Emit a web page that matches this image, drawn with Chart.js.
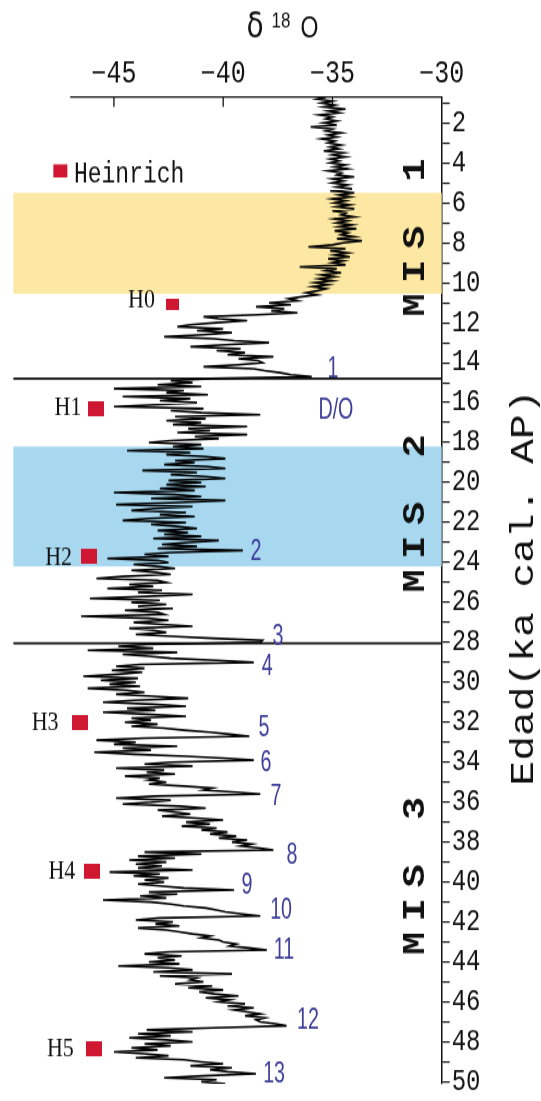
<!DOCTYPE html>
<html>
<head>
<meta charset="utf-8">
<script src="https://cdn.jsdelivr.net/npm/chart.js@4/dist/chart.umd.min.js"></script>
<style>
  html { overflow: hidden; background: #fff; }
  body { margin: 0; padding: 0; width: 541px; height: 1101px; background: #fff; }
  /* the figure is drawn flat and stretched vertically, like the printed plate */
  #wrap { width: 541px; height: 881px; transform: scaleY(1.25); transform-origin: 0 0; }
  canvas { display: block; }
</style>
</head>
<body>
<div id="wrap">
  <canvas id="core" width="541" height="881" style="width:541px;height:881px"></canvas>
</div>
<script>
// δ18O record, one value every 0.1 ka starting at 0.7 ka
const ageStart = 0.7;
const ageStep = 0.1;
const d18O = [
  -35.3, -35.7, -35.0,
  -35.5, -34.9, -35.4, -34.4, -35.2, -34.7, -35.6, -35.0, -35.3, -34.8,
  -35.4, -34.8, -36.0, -35.0, -35.3, -34.6, -35.2, -34.8, -35.5, -34.9,
  -35.2, -34.6, -35.1, -34.7, -35.4, -34.5, -35.0, -34.4, -35.1, -34.7,
  -35.1, -34.4, -34.9, -34.3, -35.2, -34.6, -34.8, -34.0, -35.0, -34.5,
  -35.0, -34.3, -34.8, -34.1, -35.1, -34.0, -34.7, -34.2, -35.0, -34.4,
  -34.9, -34.2, -34.8, -34.0, -35.0, -34.4, -34.6, -34.0, -34.9, -34.3,
  -34.8, -34.1, -34.7, -33.9, -34.9, -34.3, -34.6, -34.0, -34.8, -33.65,
  -34.5, -35.0, -36.1, -34.4, -35.1, -34.3, -34.9, -34.2, -35.2, -34.5,
  -35.0, -34.4, -36.5, -34.8, -35.3, -34.6, -35.5, -34.9, -35.6, -35.0,
  -35.8, -35.2, -35.9, -35.3, -35.7, -36.2, -35.7, -36.4, -37.0, -36.6,
  -37.9, -36.9, -38.5, -37.2, -37.8, -36.6, -38.4, -40.9, -40.2, -38.9,
  -40.3, -41.5, -42.1, -40.0, -41.2, -39.6, -40.9, -42.7, -40.4, -39.5,
  -37.9, -39.9, -41.5, -39.2, -40.3, -39.0, -39.8, -37.7, -39.3, -38.4,
  -38.2, -39.3, -40.9, -38.6, -38.1, -37.4, -36.9, -35.95, -40.6, -42.4,
  -41.4, -43.0, -41.0, -45.0, -41.8, -42.6, -40.7, -44.6, -41.5, -42.9,
  -41.2, -43.1, -45.0, -40.9, -42.4, -41.0, -38.3, -42.2, -40.8, -42.6,
  -41.0, -42.3, -38.9, -41.6, -40.6, -42.1, -38.9, -41.3, -40.2, -42.4,
  -43.4, -41.0, -42.3, -40.9, -44.4, -41.5, -42.6, -40.8, -39.9, -42.2,
  -41.3, -42.7, -40.7, -39.9, -43.7, -41.2, -42.4, -40.8, -39.9, -42.5,
  -41.0, -42.6, -40.8, -42.9, -41.3, -45.0, -42.2, -41.0, -43.3, -39.9,
  -42.0, -44.9, -41.4, -43.1, -44.2, -41.7, -42.9, -41.3, -43.4, -44.6,
  -41.7, -43.3, -42.1, -41.2, -43.0, -41.6, -42.7, -41.0, -43.2, -40.2,
  -41.6, -42.8, -41.2, -43.0, -39.1, -42.4, -43.6, -42.5, -45.3, -43.0,
  -42.5, -44.1, -43.0, -42.2, -44.2, -43.1, -42.4, -44.6, -45.8, -43.0,
  -42.6, -44.3, -43.2, -45.3, -42.8, -43.9, -41.4, -43.5, -46.1, -42.9,
  -44.2, -42.6, -43.9, -42.3, -44.5, -43.0, -42.7, -46.5, -43.4, -42.5,
  -44.1, -42.8, -41.4, -44.3, -43.2, -42.6, -44.0, -42.4, -40.5, -38.2,
  -38.3, -43.5, -44.8, -43.2, -46.2, -42.1, -44.6, -43.4, -42.4, -40.3,
  -38.6, -43.8, -44.9, -43.6, -45.1, -43.7, -44.8, -46.4, -43.9, -45.6,
  -44.0, -45.2, -43.8, -46.2, -44.4, -43.6, -44.9, -43.2, -41.6, -44.1,
  -45.5, -43.2, -41.7, -44.4, -43.1, -45.5, -43.5, -41.7, -44.2, -43.3,
  -44.5, -43.0, -44.2, -42.7, -41.8, -40.6, -39.7, -38.8, -43.6, -45.8,
  -44.0, -45.0, -42.1, -44.6, -43.3, -45.9, -44.1, -41.7, -40.0, -38.6,
  -42.4, -43.6, -41.4, -44.9, -42.7, -43.5, -42.2, -44.5, -42.9, -43.4,
  -42.6, -43.4, -41.8, -40.5, -40.9, -39.4, -38.3, -43.1, -44.9, -42.4,
  -43.3, -44.6, -42.0, -40.8, -43.0, -42.2, -41.5, -42.8, -41.2, -40.0,
  -41.7, -40.6, -41.9, -40.3, -41.0, -39.8, -40.6, -39.4, -40.2, -38.9,
  -39.6, -38.7, -39.2, -38.3, -37.7, -43.6, -41.0, -43.9, -42.2, -44.3,
  -42.6, -44.0, -42.8, -43.9, -41.4, -45.2, -42.9, -44.1, -42.5, -43.6,
  -42.7, -43.9, -42.9, -41.8, -39.5, -43.4, -42.1, -43.8, -42.6, -45.5,
  -43.3, -42.4, -41.8, -40.8, -40.3, -39.9, -39.1, -38.3, -42.9, -44.0,
  -42.3, -43.1, -42.0, -43.9, -42.6, -42.0, -41.4, -40.6, -41.0, -40.2,
  -40.0, -39.4, -39.7, -38.8, -38.0, -42.5, -43.6, -41.9, -43.0, -42.2,
  -43.4, -42.0, -44.8, -42.5, -41.4, -43.2, -39.6, -42.9, -41.2, -41.5,
  -40.9, -42.2, -40.5, -41.6, -40.0, -41.1, -40.4, -39.3, -40.8, -39.7,
  -40.2, -39.0, -39.8, -38.6, -39.5, -38.9, -38.3, -39.0, -38.1, -38.5,
  -38.3, -37.6, -37.1, -40.4, -43.5, -41.4, -43.9, -42.4, -44.3, -42.6,
  -41.4, -43.6, -42.4, -44.2, -43.0, -45.0, -43.6, -42.5, -44.0, -41.8,
  -41.0, -40.0, -41.5, -39.6, -40.6, -39.8, -38.5, -40.9, -42.7, -40.3,
  -41.0, -39.9,
];

const d18OTicks = [-45, -40, -35, -30];
const ageTicks = [
  1, 2, 3, 4, 5, 6, 7, 8, 9, 10, 11, 12, 13, 14, 15, 16, 17, 18, 19, 20, 21, 22, 23, 24, 25,
  26, 27, 28, 29, 30, 31, 32, 33, 34, 35, 36, 37, 38, 39, 40, 41, 42, 43, 44, 45, 46, 47, 48, 49, 50,
];

// shaded intervals (ka)
const bandStart = [5.5, 18.2];
const bandEnd = [10.55, 24.2];

// stage boundaries and stage names
const misBoundary = [14.8, 28.05];
const misNames = ['MIS 1', 'MIS 2', 'MIS 3'];
const misAge = [7.73, 21.55, 39.7];
const misD18O = [-31.15, -31.15, -31.15];

// Heinrich events
const heinrichNames = ['H0', 'H1', 'H2', 'H3', 'H4', 'H5'];
const heinrichAge = [11.08, 16.31, 23.68, 32.0, 39.45, 48.35];
const heinrichD18O = [-42.3, -45.81, -46.12, -46.55, -45.99, -45.92];
const heinrichTextAge = [10.85, 16.25, 23.75, 32.0, 39.45, 48.35];
const heinrichTextD18O = [-43.74, -47.1, -47.53, -48.15, -47.38, -47.45];

// Dansgaard-Oeschger interstadials
const doNames = ['1', 'D/O', '2', '3', '4', '5', '6', '7', '8', '9', '10', '11', '12', '13'];
const doAge = [14.35, 16.4, 23.45, 27.7, 29.2, 32.3, 34.05, 35.75, 38.65, 40.15, 41.45, 43.4, 46.95, 49.6];
const doD18O = [-34.97, -34.84, -38.5, -37.49, -37.99, -38.13, -38.04, -37.58, -36.85, -38.91, -37.35, -37.22, -36.12, -37.67];

const ink = '#111';
const red = '#cf1731';
const doBlue = '#3e3e98';
const bandColors = ['rgb(252, 232, 163)', 'rgb(167, 216, 239)'];

const corePoints = d18O.map((v, i) => ({ x: v, y: +(ageStart + i * ageStep).toFixed(1) }));
const heinrichPoints = heinrichAge.map((a, i) => ({ x: heinrichD18O[i], y: a }));

function redSquare(w, h) {
  const c = document.createElement('canvas');
  c.width = w;
  c.height = h;
  const g = c.getContext('2d');
  g.fillStyle = red;
  g.fillRect(0, 0, w, h);
  return c;
}
const heinrichIcons = heinrichNames.map((n) => (n === 'H0' ? redSquare(13, 9) : redSquare(16, 12)));

const decor = {
  id: 'decor',
  beforeDatasetsDraw(chart) {
    const { ctx, chartArea: area, scales: { y } } = chart;
    ctx.save();
    bandStart.forEach((from, i) => {
      const top = y.getPixelForValue(from);
      const bottom = y.getPixelForValue(bandEnd[i]);
      ctx.fillStyle = bandColors[i];
      ctx.fillRect(area.left, top, area.right - area.left, bottom - top);
    });
    ctx.strokeStyle = ink;
    ctx.lineWidth = 1.6;
    misBoundary.forEach((age) => {
      const py = y.getPixelForValue(age);
      ctx.beginPath();
      ctx.moveTo(area.left, py);
      ctx.lineTo(area.right, py);
      ctx.stroke();
    });
    ctx.restore();
  },
  afterDatasetsDraw(chart) {
    const { ctx, chartArea: area, scales: { x, y } } = chart;
    ctx.save();

    // top axis line and inward ticks
    ctx.strokeStyle = ink;
    ctx.lineWidth = 1.3;
    ctx.beginPath();
    ctx.moveTo(x.getPixelForValue(-47), area.top);
    ctx.lineTo(area.right, area.top);
    d18OTicks.filter((v) => v > x.min && v < x.max).forEach((v) => {
      const px = x.getPixelForValue(v);
      ctx.moveTo(px, area.top);
      ctx.lineTo(px, area.top + 8);
    });
    ctx.stroke();

    ctx.fillStyle = ink;
    ctx.textAlign = 'center';
    ctx.textBaseline = 'middle';

    // Heinrich names
    ctx.font = '22px "Liberation Serif", serif';
    heinrichNames.forEach((n, i) => {
      ctx.fillText(n, x.getPixelForValue(heinrichTextD18O[i]), y.getPixelForValue(heinrichTextAge[i]));
    });

    // legend
    const lx = x.getPixelForValue(-47.45);
    const ly = y.getPixelForValue(4.4);
    ctx.fillStyle = red;
    ctx.fillRect(lx - 7, ly - 5.25, 14, 10.5);
    ctx.fillStyle = ink;
    ctx.textAlign = 'left';
    ctx.textBaseline = 'alphabetic';
    ctx.font = '23px "Liberation Mono", monospace';
    ctx.fillText('Heinrich', x.getPixelForValue(-46.83), y.getPixelForValue(4.95));

    // D/O numbers
    ctx.fillStyle = doBlue;
    ctx.textAlign = 'center';
    ctx.textBaseline = 'middle';
    ctx.font = '24px "Liberation Sans", sans-serif';
    doNames.forEach((n, i) => {
      ctx.save();
      ctx.translate(x.getPixelForValue(doD18O[i]), y.getPixelForValue(doAge[i]));
      ctx.scale(0.82, 1);
      ctx.fillText(n, 0, 0);
      ctx.restore();
    });

    // stage names, one glyph at a time
    ctx.fillStyle = ink;
    ctx.font = 'bold 31px "Liberation Mono", monospace';
    misNames.forEach((n, i) => {
      ctx.save();
      ctx.translate(x.getPixelForValue(misD18O[i]), y.getPixelForValue(misAge[i]));
      ctx.rotate(-Math.PI / 2);
      [...n].forEach((ch, k) => ctx.fillText(ch, (k - (n.length - 1) / 2) * 27, 0));
      ctx.restore();
    });

    // axis titles
    ctx.save();
    ctx.translate(524.5, 470);
    ctx.rotate(-Math.PI / 2);
    ctx.font = '33px "Liberation Mono", monospace';
    ctx.fillText('Edad(ka cal. AP)', 0, 0);
    ctx.restore();

    ctx.textBaseline = 'alphabetic';
    ctx.font = '28px "DejaVu Sans", sans-serif';
    ctx.fillText('δ', 255, 30.4);
    ctx.font = '17px "Liberation Sans", sans-serif';
    ctx.fillText('18', 281, 21.6);
    ctx.font = '23px "Liberation Sans", sans-serif';
    ctx.fillText('O', 309.5, 30.4);

    ctx.restore();
  },
};

new Chart(document.getElementById('core'), {
  type: 'line',
  data: {
    datasets: [
      {
        label: 'δ18O',
        data: corePoints,
        borderColor: '#000',
        borderWidth: 1.6,
        pointRadius: 0,
        tension: 0,
        fill: false,
        order: 2,
      },
      {
        type: 'scatter',
        label: 'Heinrich',
        data: heinrichPoints,
        pointStyle: heinrichIcons,
        pointRadius: 6,
        order: 1,
      },
    ],
  },
  options: {
    responsive: false,
    animation: false,
    devicePixelRatio: 1,
    indexAxis: 'y',
    layout: { padding: { left: 13.4, right: 0, top: 0, bottom: 13 } },
    plugins: {
      legend: { display: false },
      tooltip: { enabled: false },
    },
    scales: {
      x: {
        type: 'linear',
        position: 'top',
        min: -49.6,
        max: -30,
        afterFit: (s) => { s.height = 77.6; },
        afterBuildTicks: (s) => { s.ticks = d18OTicks.map((v) => ({ value: v })); },
        grid: { display: false, drawTicks: false },
        border: { display: false },
        ticks: {
          autoSkip: false,
          maxRotation: 0,
          padding: 3,
          color: ink,
          font: { family: '"Liberation Mono", monospace', size: 25, lineHeight: 1.2 },
          callback: (v) => '−' + Math.abs(v),
        },
      },
      y: {
        type: 'linear',
        position: 'right',
        reverse: true,
        min: 0.7,
        max: 50.1,
        afterFit: (s) => { s.width = 99.3; },
        afterBuildTicks: (s) => { s.ticks = ageTicks.map((v) => ({ value: v })); },
        grid: { drawOnChartArea: false, drawTicks: true, tickLength: 8, color: ink, lineWidth: 1.2 },
        border: { display: true, color: ink, width: 1.5 },
        ticks: {
          autoSkip: false,
          padding: 2,
          color: ink,
          font: { family: '"Liberation Mono", monospace', size: 24, lineHeight: 1 },
          callback: (v) => (v % 2 === 0 ? String(v) : ''),
        },
      },
    },
  },
  plugins: [decor],
});
</script>
</body>
</html>
